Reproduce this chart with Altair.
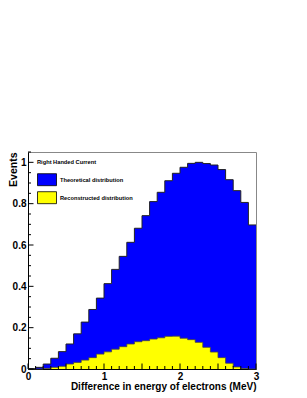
import altair as alt
import numpy as np
import pandas as pd

# Histogram bin contents (30 bins of 0.1 MeV from 0 to 3)
theoretical = [0.002, 0.008, 0.024, 0.052, 0.084, 0.121, 0.170, 0.227, 0.288, 0.343,
               0.413, 0.482, 0.545, 0.613, 0.681, 0.742, 0.810, 0.855, 0.911, 0.947,
               0.976, 0.995, 1.000, 0.994, 0.987, 0.965, 0.916, 0.863, 0.806, 0.697]
reconstructed = [0.000, 0.000, 0.003, 0.008, 0.013, 0.024, 0.032, 0.043, 0.055, 0.072,
                 0.083, 0.096, 0.108, 0.121, 0.132, 0.137, 0.145, 0.151, 0.158, 0.159,
                 0.149, 0.142, 0.129, 0.105, 0.082, 0.055, 0.028, 0.010, 0.002, 0.000]
series_names = ["Theoretical distribution", "Reconstructed distribution"]
series_colors = ["#0000ff", "#ffff00"]

x_major = [0, 0.5, 1, 1.5, 2, 2.5, 3]
x_minor = [0.1, 0.2, 0.3, 0.4, 0.6, 0.7, 0.8, 0.9, 1.1, 1.2, 1.3, 1.4, 1.6, 1.7, 1.8, 1.9,
           2.1, 2.2, 2.3, 2.4, 2.6, 2.7, 2.8, 2.9]
y_major = [0, 0.2, 0.4, 0.6, 0.8, 1]
y_minor = [0.05, 0.1, 0.15, 0.25, 0.3, 0.35, 0.45, 0.5, 0.55, 0.65, 0.7, 0.75,
           0.85, 0.9, 0.95, 1.05]

edges = np.round(np.arange(len(theoretical) + 1) * 0.1, 1)
hist = pd.DataFrame({
    "x": edges,
    "theo": theoretical + [theoretical[-1]],
    "reco": reconstructed + [reconstructed[-1]],
    "s_theo": series_names[0],
    "s_reco": series_names[1],
})

W, H = 228, 217
FONT = "Liberation Sans"

xscale = alt.Scale(domain=[0, 3], nice=False, zero=False)
yscale = alt.Scale(domain=[0, 1.05], nice=False)
cscale = alt.Scale(domain=series_names, range=series_colors)

legend = alt.Legend(
    title="Right Handed Current", orient="none", legendX=9, legendY=7, padding=0,
    titleFont=FONT, titleFontSize=5.7, titleFontWeight="bold", titleColor="black",
    titlePadding=5,
    labelFont=FONT, labelFontSize=5.7, labelFontWeight="bold", labelColor="black",
    labelOffset=3,
    symbolType="M-1,-0.63H1V0.63H-1Z", symbolSize=361,
    symbolStrokeColor="black", symbolStrokeWidth=0.8, symbolOpacity=1,
    rowPadding=0,
)

xaxis = alt.Axis(values=x_major, format="~g", ticks=False, grid=False,
                 domainColor="black", domainWidth=1,
                 labelFont=FONT, labelFontSize=10, labelFontWeight="bold", labelColor="black",
                 labelPadding=2, labelFlush=False,
                 title="Difference in energy of electrons (MeV)", titleAnchor="end",
                 titleFont=FONT, titleFontSize=10, titleFontWeight="bold", titleColor="black",
                 titlePadding=0)
yaxis = alt.Axis(values=y_major, format="~g", ticks=False, grid=False,
                 domainColor="black", domainWidth=1,
                 labelFont=FONT, labelFontSize=10, labelFontWeight="bold", labelColor="black",
                 labelPadding=2, labelFlush=False,
                 title="Events", titleAnchor="end", titleX=-15, titleBaseline="middle",
                 titleFont=FONT, titleFontSize=10.5, titleFontWeight="bold", titleColor="black")

base = alt.Chart(hist)

blue = base.mark_area(interpolate="step-after", opacity=1).encode(
    x=alt.X("x:Q", scale=xscale, axis=xaxis),
    y=alt.Y("theo:Q", scale=yscale, axis=yaxis),
    color=alt.Color("s_theo:N", scale=cscale, legend=legend),
)
blue_line = base.mark_line(interpolate="step-after", color="#222222", strokeWidth=1).encode(
    x=alt.X("x:Q", scale=xscale), y=alt.Y("theo:Q", scale=yscale))
yellow = base.mark_area(interpolate="step-after", opacity=1).encode(
    x=alt.X("x:Q", scale=xscale),
    y=alt.Y("reco:Q", scale=yscale),
    color=alt.Color("s_reco:N", scale=cscale, legend=legend),
)
yellow_line = base.mark_line(interpolate="step-after", color="#444444", strokeWidth=0.8).encode(
    x=alt.X("x:Q", scale=xscale), y=alt.Y("reco:Q", scale=yscale))

def yticks(vals, length):
    return alt.Chart(pd.DataFrame({"v": vals})).mark_rule(color="black", strokeWidth=1).encode(
        y=alt.Y("v:Q", scale=yscale), x=alt.value(0), x2=alt.value(length))

def xticks(vals, length):
    return alt.Chart(pd.DataFrame({"v": vals})).mark_rule(color="black", strokeWidth=1).encode(
        x=alt.X("v:Q", scale=xscale), y=alt.value(H), y2=alt.value(H - length))

chart = alt.layer(
    blue, blue_line, yellow, yellow_line,
    yticks(y_major, 5.5), yticks(y_minor, 3),
    xticks(x_major, 5.5), xticks(x_minor, 3),
).properties(
    width=W, height=H,
    autosize=alt.AutoSizeParams(type="none"),
    padding={"left": 20, "top": 144, "right": 40, "bottom": 28},
).configure_view(stroke="#888888", strokeWidth=1)

chart.save("out.html", embed_options={"renderer": "svg", "actions": False})
